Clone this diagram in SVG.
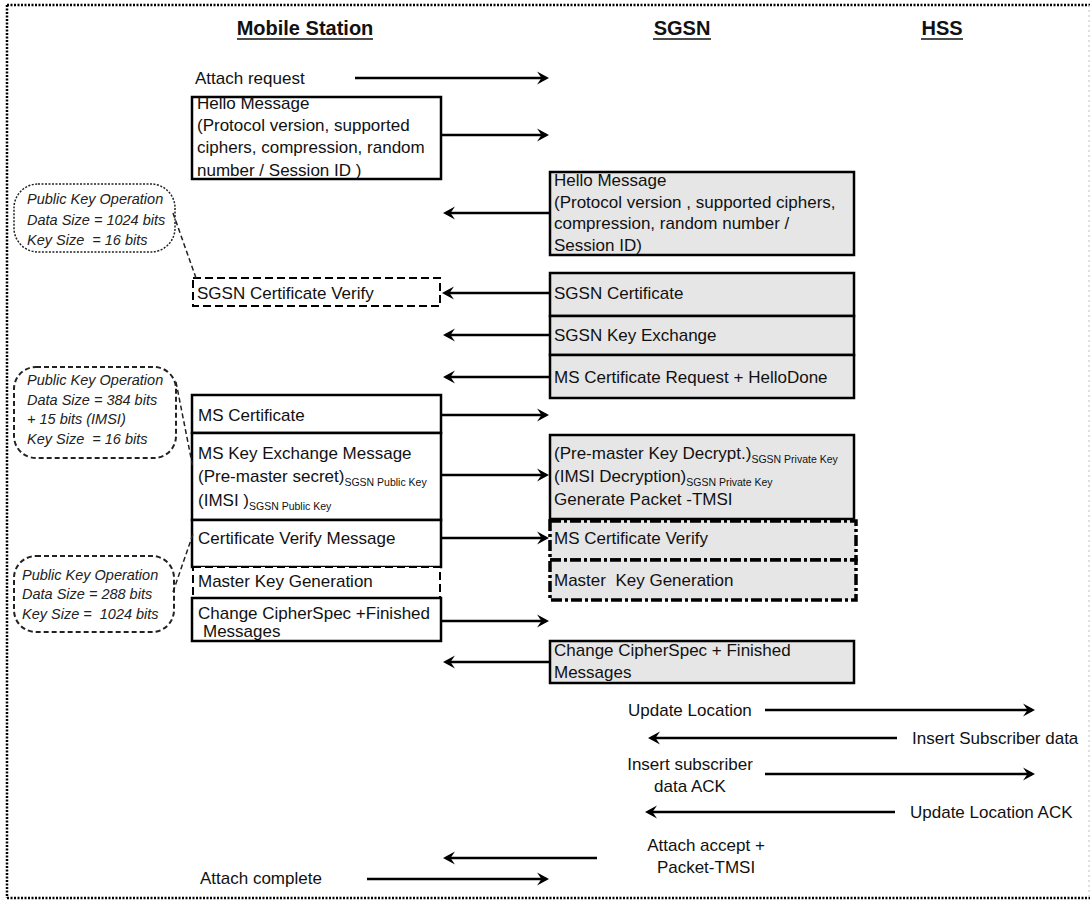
<svg xmlns="http://www.w3.org/2000/svg" width="1091" height="902" viewBox="0 0 1091 902">
  <defs>
    <style>
      .t { font-family: "Liberation Sans", Arial, sans-serif; font-size: 17px; fill: #111; }
      .h { font-family: "Liberation Sans", Arial, sans-serif; font-size: 20px; font-weight: bold; fill: #111; }
      .c { font-family: "Liberation Sans", Arial, sans-serif; font-size: 14.5px; font-style: italic; fill: #222; }
      .sub { font-size: 10.5px; }
      .ul { stroke: #111; stroke-width: 1.6; }
      .box { fill: #fff; stroke: #000; stroke-width: 2.5; }
      .sbox { fill: #e6e6e6; stroke: #000; stroke-width: 2.5; }
      .dbox { fill: #fff; stroke: #000; stroke-width: 2; stroke-dasharray: 8 4; }
      .hbox { fill: #e6e6e6; stroke: #000; stroke-width: 3.5; stroke-dasharray: 11 3 3 3; }
      .conn { stroke: #000; stroke-width: 2.5; fill: none; marker-end: url(#ah); }
      .frame { stroke: #000; stroke-width: 2.5; stroke-dasharray: 2 1.5; fill: none; }
      .callout1 { fill: none; stroke: #222; stroke-width: 1.5; stroke-dasharray: 2 1.5; }
      .callout { fill: none; stroke: #222; stroke-width: 2; stroke-dasharray: 5 3; }
      .leader { stroke: #222; stroke-width: 1.5; stroke-dasharray: 5 3; fill: none; }
    </style>
    <marker id="ah" viewBox="-10 -7 14 14" refX="0" refY="0" markerWidth="14" markerHeight="14" orient="auto" markerUnits="userSpaceOnUse">
      <path d="M3,0 L-9,-6.5 L-4.5,0 L-9,6.5 Z" fill="#000"/>
    </marker>
  </defs>

  <rect width="1091" height="902" fill="#fff"/>

  <!-- dotted outer frame -->
  <g id="frame">
    <line class="frame" x1="7" y1="5" x2="1090" y2="5"/>
    <line class="frame" x1="7" y1="5" x2="7" y2="898"/>
    <line class="frame" x1="7" y1="898" x2="1090" y2="898"/>
    <line x1="1089" y1="5" x2="1089" y2="898" stroke="#ccc" stroke-width="1.2" stroke-dasharray="2 3"/>
  </g>

  <!-- column headers -->
  <g id="header-ms">
    <text class="h" x="305" y="35" text-anchor="middle">Mobile Station</text>
    <line class="ul" x1="237" y1="39" x2="373" y2="39"/>
  </g>
  <g id="header-sgsn">
    <text class="h" x="682" y="35" text-anchor="middle">SGSN</text>
    <line class="ul" x1="653" y1="39" x2="711" y2="39"/>
  </g>
  <g id="header-hss">
    <text class="h" x="942" y="35" text-anchor="middle">HSS</text>
    <line class="ul" x1="921" y1="39" x2="963" y2="39"/>
  </g>

  <!-- Mobile Station side -->
  <g id="ms-attach-request">
    <text class="t" x="195" y="84">Attach request</text>
  </g>
  <g id="ms-hello">
    <rect class="box" x="192" y="97" width="249" height="82"/>
    <text class="t" x="197" y="109">Hello Message</text>
    <text class="t" x="197" y="131">(Protocol version, supported</text>
    <text class="t" x="197" y="153">ciphers, compression, random</text>
    <text class="t" x="197" y="176">number / Session ID )</text>
  </g>
  <g id="ms-sgsn-cert-verify">
    <rect class="dbox" x="193" y="278" width="247" height="28"/>
    <text class="t" x="197" y="299">SGSN Certificate Verify</text>
  </g>
  <g id="ms-certificate">
    <rect class="box" x="192" y="395" width="249" height="38"/>
    <text class="t" x="198" y="421">MS Certificate</text>
  </g>
  <g id="ms-key-exchange">
    <rect class="box" x="192" y="433" width="249" height="87"/>
    <text class="t" x="198" y="459">MS Key Exchange Message</text>
    <text class="t" x="198" y="482">(Pre-master secret)<tspan class="sub" dy="4">SGSN Public Key</tspan></text>
    <text class="t" x="198" y="506">(IMSI )<tspan class="sub" dy="4">SGSN Public Key</tspan></text>
  </g>
  <g id="ms-cert-verify-msg">
    <rect class="box" x="192" y="520" width="249" height="47"/>
    <text class="t" x="198" y="544">Certificate Verify Message</text>
  </g>
  <g id="ms-master-key">
    <rect class="dbox" x="193" y="567" width="247" height="31" stroke-width="2.5"/>
    <text class="t" x="198" y="587">Master Key Generation</text>
  </g>
  <g id="ms-change-cipher">
    <rect class="box" x="192" y="598" width="249" height="43"/>
    <text class="t" x="198" y="619">Change CipherSpec +Finished</text>
    <text class="t" x="203" y="637">Messages</text>
  </g>
  <g id="ms-attach-complete">
    <text class="t" x="200" y="884">Attach complete</text>
  </g>

  <!-- SGSN side -->
  <g id="sgsn-hello">
    <rect class="sbox" x="550" y="172" width="304" height="83"/>
    <text class="t" x="554" y="186">Hello Message</text>
    <text class="t" x="554" y="208">(Protocol version , supported ciphers,</text>
    <text class="t" x="554" y="229">compression, random number /</text>
    <text class="t" x="554" y="251">Session ID)</text>
  </g>
  <g id="sgsn-certificate">
    <rect class="sbox" x="550" y="273" width="304" height="43"/>
    <text class="t" x="554" y="299">SGSN Certificate</text>
  </g>
  <g id="sgsn-key-exchange">
    <rect class="sbox" x="550" y="316" width="304" height="39"/>
    <text class="t" x="554" y="341">SGSN Key Exchange</text>
  </g>
  <g id="sgsn-cert-request">
    <rect class="sbox" x="550" y="355" width="304" height="43"/>
    <text class="t" x="554" y="383">MS Certificate Request + HelloDone</text>
  </g>
  <g id="sgsn-decrypt">
    <rect class="sbox" x="550" y="435" width="304" height="84"/>
    <text class="t" x="554" y="459">(Pre-master Key Decrypt.)<tspan class="sub" font-size="11" dy="4">SGSN Private Key</tspan></text>
    <text class="t" x="554" y="482">(IMSI Decryption)<tspan class="sub" font-size="11" dy="4">SGSN Private Key</tspan></text>
    <text class="t" x="554" y="505">Generate Packet -TMSI</text>
  </g>
  <g id="sgsn-ms-cert-verify">
    <rect class="hbox" x="550" y="521" width="306" height="39"/>
    <text class="t" x="554" y="544">MS Certificate Verify</text>
  </g>
  <g id="sgsn-master-key">
    <rect class="hbox" x="550" y="560" width="306" height="40"/>
    <text class="t" x="554" y="586" xml:space="preserve">Master  Key Generation</text>
  </g>
  <g id="sgsn-change-cipher">
    <rect class="sbox" x="550" y="641" width="304" height="42"/>
    <text class="t" x="554" y="656">Change CipherSpec + Finished</text>
    <text class="t" x="554" y="678">Messages</text>
  </g>
  <g id="sgsn-update-location">
    <text class="t" x="628" y="716">Update Location</text>
  </g>
  <g id="sgsn-insert-ack">
    <text class="t" x="690" y="770" text-anchor="middle">Insert subscriber</text>
    <text class="t" x="690" y="792" text-anchor="middle">data ACK</text>
  </g>
  <g id="sgsn-attach-accept">
    <text class="t" x="706" y="851" text-anchor="middle">Attach accept +</text>
    <text class="t" x="706" y="873" text-anchor="middle">Packet-TMSI</text>
  </g>

  <!-- HSS side -->
  <g id="hss-insert-data">
    <text class="t" x="912" y="744">Insert Subscriber data</text>
  </g>
  <g id="hss-update-ack">
    <text class="t" x="910" y="818">Update Location ACK</text>
  </g>

  <!-- public key operation call-outs -->
  <g id="callout-sgsn-cert">
    <rect class="callout1" x="14" y="184" width="161" height="68" rx="24" ry="24"/>
    <text class="c" x="27" y="204">Public Key Operation</text>
    <text class="c" x="27" y="225">Data Size = 1024  bits</text>
    <text class="c" x="27" y="245" xml:space="preserve">Key Size  = 16 bits</text>
  </g>
  <g id="callout-key-exchange">
    <rect class="callout" x="14" y="367" width="162" height="91" rx="22" ry="22"/>
    <text class="c" x="27" y="385">Public Key Operation</text>
    <text class="c" x="27" y="405">Data Size = 384 bits</text>
    <text class="c" x="27" y="424">+ 15 bits (IMSI)</text>
    <text class="c" x="27" y="444" xml:space="preserve">Key Size  = 16 bits</text>
  </g>
  <g id="callout-cert-verify">
    <rect class="callout" x="14" y="556" width="160" height="76" rx="22" ry="22"/>
    <text class="c" x="22" y="580">Public Key Operation</text>
    <text class="c" x="22" y="599">Data Size = 288 bits</text>
    <text class="c" x="22" y="619" xml:space="preserve">Key Size =  1024 bits</text>
  </g>

  <!-- message connectors -->
  <g id="connectors">
    <line class="conn" x1="355" y1="78" x2="546" y2="78"/>
    <line class="conn" x1="441" y1="135" x2="546" y2="135"/>
    <line class="conn" x1="550" y1="213" x2="446" y2="213"/>
    <line class="conn" x1="550" y1="293" x2="445" y2="293"/>
    <line class="conn" x1="550" y1="335" x2="446" y2="335"/>
    <line class="conn" x1="550" y1="377" x2="446" y2="377"/>
    <line class="conn" x1="441" y1="415" x2="546" y2="415"/>
    <line class="conn" x1="441" y1="475" x2="546" y2="475"/>
    <line class="conn" x1="441" y1="538" x2="546" y2="538"/>
    <line class="conn" x1="441" y1="621" x2="546" y2="621"/>
    <line class="conn" x1="550" y1="662" x2="446" y2="662"/>
    <line class="conn" x1="765" y1="710" x2="1032" y2="710"/>
    <line class="conn" x1="897" y1="738" x2="651" y2="738"/>
    <line class="conn" x1="765" y1="774" x2="1032" y2="774"/>
    <line class="conn" x1="895" y1="812" x2="648" y2="812"/>
    <line class="conn" x1="597" y1="858" x2="446" y2="858"/>
    <line class="conn" x1="367" y1="879" x2="546" y2="879"/>
    <!-- call-out leaders -->
    <line class="leader" x1="173" y1="213" x2="196" y2="278"/>
    <line class="leader" x1="176" y1="382" x2="193" y2="468"/>
    <line class="leader" x1="173" y1="592" x2="193" y2="534"/>
  </g>
</svg>
